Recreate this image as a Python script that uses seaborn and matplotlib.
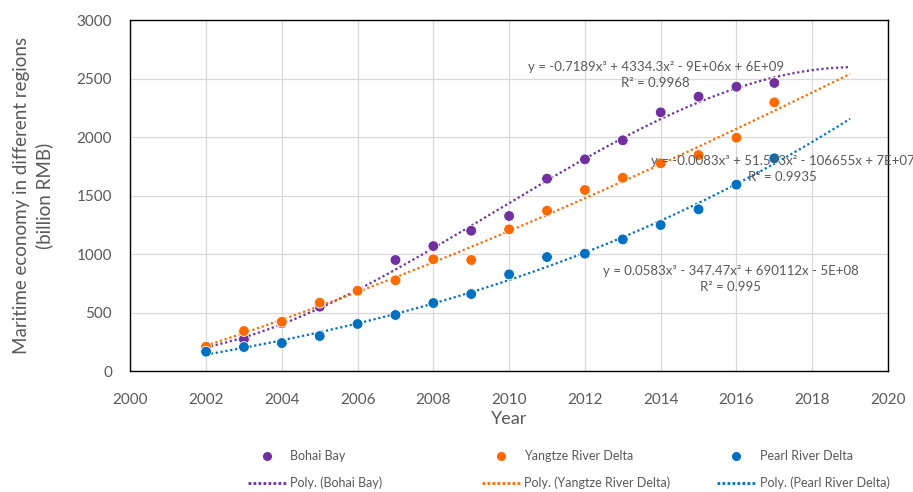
import numpy as np
import pandas as pd
import matplotlib
matplotlib.use("Agg")
import matplotlib.pyplot as plt
import seaborn as sns
from matplotlib.lines import Line2D

# values (billion RMB)
years = list(range(2002, 2018))
bohai = [195, 271, 408, 550, 692, 949, 1068, 1199, 1325, 1644, 1809, 1972, 2211, 2345, 2430, 2462]
yangtze = [208, 342, 421, 584, 686, 775, 955, 949, 1211, 1370, 1547, 1652, 1775, 1846, 1994, 2296]
pearl = [165, 205, 239, 299, 402, 479, 581, 658, 826, 974, 1003, 1125, 1248, 1382, 1593, 1818]

regions = ["Bohai Bay", "Yangtze River Delta", "Pearl River Delta"]
colors = ["#7030A0", "#FF6A00", "#0070C0"]
equations = [
    "y = -0.7189x³ + 4334.3x² - 9E+06x + 6E+09\nR² = 0.9968",
    "y = -0.0083x³ + 51.593x² - 106655x + 7E+07\nR² = 0.9935",
    "y = 0.0583x³ - 347.47x² + 690112x - 5E+08\nR² = 0.995",
]
eq_pos = [(2013.87, 2530), (2017.22, 1726), (2015.85, 786)]

df = pd.DataFrame({"Year": years * 3,
                   "Value": bohai + yangtze + pearl,
                   "Region": [r for r in regions for _ in years]})

sns.set_theme(style="whitegrid")
plt.rcParams["font.family"] = ["Lato", "DejaVu Sans"]
grey = "#595959"

fig = plt.figure(figsize=(9.13, 4.92), dpi=100)
ax = fig.add_axes([0.1427, 0.2459, 0.8299, 0.7134])

# cubic trend lines, forecast forward 2 periods like the original
fit_x = np.linspace(2002, 2019, 200)
trend_rows = []
for r in regions:
    sub = df[df.Region == r]
    coef = np.polyfit(sub.Year - 2000, sub.Value, 3)
    trend_rows.append(pd.DataFrame({"Year": fit_x,
                                    "Value": np.polyval(coef, fit_x - 2000),
                                    "Region": r}))
trend = pd.concat(trend_rows)

sns.lineplot(data=trend, x="Year", y="Value", hue="Region", palette=colors,
             linestyle=(0, (1, 1.2)), linewidth=1.6, legend=False, ax=ax, zorder=2)
sns.scatterplot(data=df, x="Year", y="Value", hue="Region", palette=colors,
                s=60, edgecolor="white", linewidth=0.6, legend=False, ax=ax, zorder=3)

for eq, (ex, ey) in zip(equations, eq_pos):
    ax.text(ex, ey, eq, ha="center", va="center", multialignment="center",
            fontsize=9.5, color=grey, linespacing=1.4, zorder=4)

ax.set_xlim(2000, 2020)
ax.set_ylim(0, 3000)
ax.set_xticks(range(2000, 2021, 2))
ax.set_yticks(range(0, 3001, 500))
ax.grid(True, color="#d9d9d9", linewidth=0.9)
for s in ax.spines.values():
    s.set_color("black")
    s.set_linewidth(1.0)
ax.tick_params(axis="both", length=0, labelsize=11, labelcolor=grey)
ax.tick_params(axis="x", pad=16)
ax.tick_params(axis="y", pad=13)
ax.set_xlabel("Year", fontsize=13, color=grey, labelpad=3)
ax.set_ylabel("Maritime economy in different regions\n(billion RMB)",
              fontsize=13.5, color=grey, labelpad=17, linespacing=1.35)

# legend: one small legend per region, placed in three columns
x_starts = [248 / 913, 482 / 913, 717 / 913]
for r, c, x0 in zip(regions, colors, x_starts):
    handles = [Line2D([], [], marker="o", linestyle="none", color=c, markersize=5.5),
               Line2D([], [], linestyle=(0, (1, 0.8)), color=c, linewidth=2)]
    fig.legend(handles, [r, f"Poly. ({r})"], loc="center left",
               bbox_to_anchor=(x0, 1 - 469.5 / 492), frameon=False, fontsize=9,
               labelcolor=grey, handlelength=3.1, handletextpad=0.3,
               labelspacing=1.15, borderaxespad=0, borderpad=0)

fig.savefig("out.png", dpi=100)
